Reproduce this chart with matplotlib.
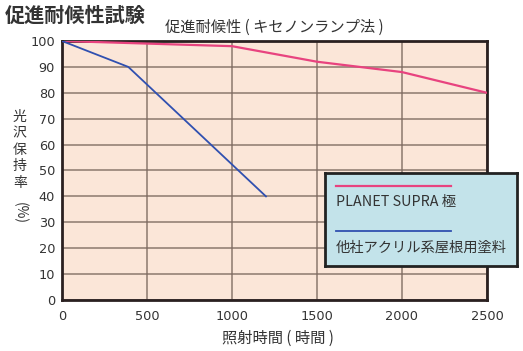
import matplotlib
matplotlib.use('Agg')
import matplotlib.pyplot as plt

plt.rcParams['font.family'] = ['Noto Sans CJK JP', 'DejaVu Sans']

# データ
hours_planet = [0, 1000, 1500, 2000, 2500]
gloss_planet = [100, 98, 92, 88, 80]
hours_other = [0, 390, 1200]
gloss_other = [100, 90, 40]
xticks = [0, 500, 1000, 1500, 2000, 2500]
yticks = [0, 10, 20, 30, 40, 50, 60, 70, 80, 90, 100]
label_planet = 'PLANET SUPRA 極'
label_other = '他社アクリル系屋根用塗料'

pink = '#e8437f'
blue = '#3050b0'
txt = '#333333'

fig = plt.figure(figsize=(5.23, 3.51), dpi=100)
ax = fig.add_axes([0.1185, 0.1453, 0.8126, 0.7379])
ax.set_facecolor('#fbe6d8')

ax.plot(hours_planet, gloss_planet, color=pink, lw=1.6, zorder=3)
ax.plot(hours_other, gloss_other, color=blue, lw=1.3, zorder=3)

ax.set_xlim(0, 2500)
ax.set_ylim(0, 100)
ax.set_xticks(xticks)
ax.set_yticks(yticks)
ax.grid(True, color='#7d6a60', lw=1.3, alpha=0.75)
ax.set_axisbelow(True)
ax.tick_params(length=0, labelsize=9.3, colors=txt)
ax.tick_params(axis='y', pad=5)
ax.tick_params(axis='x', pad=7)
for lab in ax.get_xticklabels() + ax.get_yticklabels():
    lab.set_family('DejaVu Sans')
for s in ax.spines.values():
    s.set_color('#2a2020')
    s.set_linewidth(2)

fig.text(0.01, 0.957, '促進耐候性試験', fontsize=14.5, fontweight='bold',
         color=txt, va='center', ha='left')
fig.text(0.524, 0.923, '促進耐候性 ( キセノンランプ法 )', fontsize=11,
         color=txt, va='center', ha='center')
fig.text(0.532, 0.037, '照射時間 ( 時間 )', fontsize=11,
         color=txt, va='center', ha='center')
fig.text(0.038, 0.5726, '\n'.join('光沢保持率'), fontsize=10, color=txt,
         va='center', ha='center', linespacing=1.22)
fig.text(0.038, 0.393, '(%)', fontsize=10, color=txt, va='center',
         ha='center', rotation=270)

# 凡例
lg = fig.add_axes([0.6214, 0.243, 0.367, 0.265])
lg.set_facecolor('#c3e3ea')
lg.set_xlim(0, 1)
lg.set_ylim(0, 1)
lg.set_xticks([])
lg.set_yticks([])
for s in lg.spines.values():
    s.set_color('#222222')
    s.set_linewidth(2)
lg.plot([0.056, 0.655], [0.86, 0.86], color=pink, lw=1.6)
lg.text(0.056, 0.688, label_planet, fontsize=10.3, color=txt, va='center')
lg.plot([0.056, 0.655], [0.376, 0.376], color=blue, lw=1.3)
lg.text(0.056, 0.198, label_other, fontsize=10.3, color=txt, va='center')

fig.savefig('out.png', dpi=100)
